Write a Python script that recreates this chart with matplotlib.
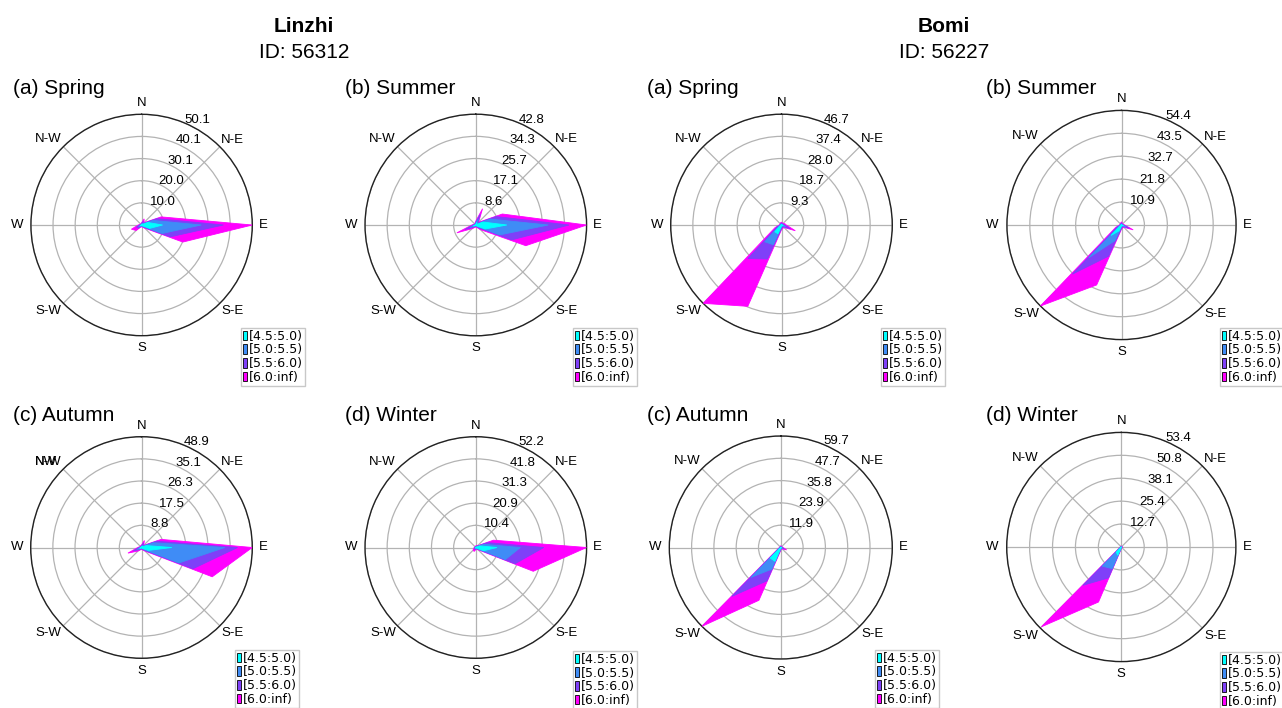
import numpy as np
import matplotlib
matplotlib.use("Agg")
import matplotlib.pyplot as plt
from matplotlib.patches import Rectangle

plt.rcParams["font.family"] = ["Liberation Sans", "DejaVu Sans"]

W, H = 1282, 708

# 16 sectors, clockwise from north
sectors = ["N", "NNE", "NE", "ENE", "E", "ESE", "SE", "SSE",
           "S", "SSW", "SW", "WSW", "W", "WNW", "NW", "NNW"]
bearings = np.arange(16) * 22.5
speed_bins = ["[4.5:5.0)", "[5.0:5.5)", "[5.5:6.0)", "[6.0:inf)"]
compass = ["N", "N-E", "E", "S-E", "S", "S-W", "W", "N-W"]

# frequency (%) per speed bin (rows) and sector (columns)
linzhi_spring = [
    [0.3, 0.5, 0.3, 3.0, 9.5, 4.0, 0.5, 0.2, 0.2, 0.2, 0.5, 0.6, 0.3, 0.2, 0.1, 0.1],
    [0.2, 0.5, 0.3, 2.5, 17.5, 6.0, 0.5, 0.2, 0.1, 0.2, 0.5, 0.9, 0.2, 0.1, 0.1, 0.1],
    [0.2, 0.8, 0.3, 2.0, 10.0, 4.0, 0.5, 0.2, 0.2, 0.2, 1.0, 1.0, 0.3, 0.2, 0.2, 0.2],
    [0.3, 1.2, 0.6, 2.1, 13.1, 6.2, 0.5, 0.4, 0.3, 0.4, 1.5, 2.5, 0.7, 0.3, 0.2, 0.3],
]
linzhi_summer = [
    [0.3, 1.0, 0.3, 3.0, 12.0, 4.0, 0.5, 0.2, 0.2, 0.2, 0.4, 1.0, 0.3, 0.2, 0.1, 0.2],
    [0.3, 1.5, 0.3, 3.0, 16.0, 6.0, 0.5, 0.2, 0.1, 0.2, 0.4, 1.5, 0.3, 0.1, 0.1, 0.1],
    [0.4, 2.0, 0.4, 2.5, 8.0, 5.0, 0.5, 0.2, 0.2, 0.2, 0.4, 2.0, 0.4, 0.2, 0.2, 0.2],
    [0.5, 2.3, 0.5, 2.6, 6.8, 5.9, 1.0, 0.4, 0.3, 0.4, 0.8, 3.4, 0.5, 0.3, 0.2, 0.3],
]
linzhi_autumn = [
    [0.2, 0.5, 0.3, 2.0, 12.0, 3.0, 0.5, 0.2, 0.2, 0.2, 0.4, 0.8, 0.3, 0.2, 0.1, 0.2],
    [0.2, 0.5, 0.2, 3.0, 21.0, 13.0, 0.5, 0.2, 0.1, 0.2, 0.4, 1.2, 0.3, 0.1, 0.1, 0.1],
    [0.2, 1.0, 0.3, 1.5, 5.0, 6.0, 0.5, 0.2, 0.2, 0.2, 0.4, 1.5, 0.4, 0.2, 0.2, 0.2],
    [0.4, 1.0, 0.4, 1.9, 5.85, 8.3, 0.5, 0.4, 0.3, 0.4, 0.8, 2.3, 0.5, 0.3, 0.2, 0.3],
]
linzhi_winter = [
    [0.2, 0.2, 0.3, 2.0, 10.0, 4.0, 0.3, 0.2, 0.2, 0.3, 0.3, 0.2, 0.2, 0.1, 0.1, 0.1],
    [0.1, 0.2, 0.2, 2.0, 11.0, 11.0, 0.3, 0.2, 0.2, 0.3, 0.3, 0.2, 0.1, 0.1, 0.1, 0.1],
    [0.2, 0.2, 0.3, 2.0, 11.0, 5.0, 0.4, 0.2, 0.2, 0.4, 0.4, 0.2, 0.2, 0.2, 0.1, 0.1],
    [0.3, 0.4, 0.4, 3.0, 20.2, 9.3, 0.5, 0.4, 0.4, 1.0, 0.8, 0.4, 0.3, 0.2, 0.2, 0.2],
]
bomi_spring = [
    [0.3, 0.2, 0.2, 0.3, 0.3, 0.8, 0.3, 0.3, 0.5, 4.0, 4.0, 0.5, 0.2, 0.2, 0.2, 0.2],
    [0.2, 0.2, 0.1, 0.3, 0.3, 1.2, 0.3, 0.3, 0.5, 5.0, 6.0, 0.5, 0.2, 0.1, 0.1, 0.2],
    [0.3, 0.2, 0.2, 0.4, 0.6, 2.0, 0.4, 0.4, 0.5, 6.5, 10.0, 1.0, 0.2, 0.2, 0.2, 0.2],
    [0.4, 0.4, 0.3, 0.5, 0.8, 2.3, 0.5, 0.5, 0.5, 21.6, 26.7, 1.0, 0.4, 0.3, 0.3, 0.4],
]
bomi_summer = [
    [0.3, 0.2, 0.2, 0.2, 0.3, 1.0, 0.3, 0.3, 0.5, 3.0, 7.0, 0.5, 0.2, 0.2, 0.2, 0.2],
    [0.3, 0.2, 0.1, 0.2, 0.3, 1.5, 0.3, 0.3, 0.5, 5.0, 15.0, 0.5, 0.2, 0.1, 0.1, 0.2],
    [0.4, 0.2, 0.2, 0.2, 0.4, 1.5, 0.4, 0.4, 0.5, 8.0, 11.0, 1.0, 0.2, 0.2, 0.2, 0.2],
    [0.5, 0.4, 0.3, 0.4, 0.5, 2.0, 0.5, 0.5, 0.5, 14.8, 21.4, 1.0, 0.4, 0.3, 0.3, 0.4],
]
bomi_autumn = [
    [0.2, 0.2, 0.2, 0.2, 0.2, 0.5, 0.2, 0.2, 0.3, 8.0, 8.0, 0.3, 0.2, 0.1, 0.1, 0.1],
    [0.2, 0.1, 0.1, 0.1, 0.2, 0.5, 0.2, 0.2, 0.3, 4.5, 14.7, 0.3, 0.1, 0.1, 0.1, 0.1],
    [0.2, 0.2, 0.2, 0.2, 0.3, 1.0, 0.2, 0.2, 0.4, 6.8, 14.3, 0.4, 0.2, 0.2, 0.2, 0.2],
    [0.4, 0.3, 0.3, 0.3, 0.5, 1.4, 0.4, 0.4, 0.5, 11.3, 22.7, 0.5, 0.3, 0.2, 0.2, 0.2],
]
bomi_winter = [
    [0.1, 0.1, 0.1, 0.1, 0.1, 0.1, 0.1, 0.1, 0.2, 5.0, 4.0, 0.2, 0.1, 0.1, 0.1, 0.1],
    [0.1, 0.1, 0.1, 0.1, 0.1, 0.1, 0.1, 0.1, 0.2, 8.0, 11.0, 0.2, 0.1, 0.1, 0.1, 0.1],
    [0.1, 0.1, 0.1, 0.1, 0.1, 0.2, 0.1, 0.1, 0.2, 5.5, 15.0, 0.2, 0.1, 0.1, 0.1, 0.1],
    [0.2, 0.2, 0.2, 0.2, 0.2, 0.4, 0.2, 0.2, 0.4, 14.5, 32.5, 0.4, 0.2, 0.2, 0.2, 0.2],
]

# radial axis limit and ring labels as printed on each panel
linzhi_rmax = [50.1, 42.8, 43.85, 52.2]
bomi_rmax = [46.7, 54.4, 59.7, 63.5]
linzhi_rlabels = [
    ["10.0", "20.0", "30.1", "40.1", "50.1"],
    ["8.6", "17.1", "25.7", "34.3", "42.8"],
    ["8.8", "17.5", "26.3", "35.1", "48.9"],
    ["10.4", "20.9", "31.3", "41.8", "52.2"],
]
bomi_rlabels = [
    ["9.3", "18.7", "28.0", "37.4", "46.7"],
    ["10.9", "21.8", "32.7", "43.5", "54.4"],
    ["11.9", "23.9", "35.8", "47.7", "59.7"],
    ["12.7", "25.4", "38.1", "50.8", "53.4"],
]
seasons = ["(a) Spring", "(b) Summer", "(c) Autumn", "(d) Winter"]

colors = ["#00ffff", "#3f8cf6", "#7f40f8", "#ff00ff"]

# where each compass label sits outside the ring: (gap as fraction of rmax, ha, va)
label_place = [
    (0.045, "center", "bottom"), (0.015, "left", "bottom"), (0.06, "left", "center"),
    (0.02, "left", "top"), (0.06, "center", "top"), (0.02, "right", "top"),
    (0.07, "right", "center"), (0.02, "right", "bottom"),
]


def px_rect(cx, cy, r):
    return [(cx - r) / W, 1 - (cy + r) / H, 2 * r / W, 2 * r / H]


def draw_rose(ax, table, rmax, rlabels):
    cum = np.cumsum(np.asarray(table), axis=0)
    theta = np.deg2rad(np.append(bearings, bearings[0] + 360))
    for i in range(len(speed_bins) - 1, -1, -1):
        r = np.append(cum[i], cum[i][0])
        ax.fill(theta, r, facecolor=colors[i], edgecolor=colors[i],
                lw=0.6, zorder=5 + len(speed_bins) - i)
    ax.set_theta_zero_location("N")
    ax.set_theta_direction(-1)
    angles = np.arange(0, 360, 45)
    ax.set_thetagrids(angles, [""] * len(angles))
    ax.set_ylim(0, rmax)
    radii = rmax * np.arange(1, 6) / 5
    ax.set_yticks(radii)
    ax.set_yticklabels([])
    ax.grid(color="#b3b3b3", lw=0.9)
    ax.spines["polar"].set_color("#222222")
    ax.spines["polar"].set_linewidth(1.0)
    for ang, lab, (g, ha, va) in zip(angles, compass, label_place):
        ax.text(np.deg2rad(ang), rmax * (1 + g), lab, ha=ha, va=va,
                fontsize=9.5, clip_on=False)
    for rr, lab in zip(radii, rlabels):
        ax.text(np.deg2rad(22.5), rr, lab, ha="left", va="baseline",
                fontsize=9.5, zorder=20, clip_on=False)


fig = plt.figure(figsize=(W / 100, H / 100), dpi=100)

panels = [
    (linzhi_spring, linzhi_rmax[0], linzhi_rlabels[0], seasons[0], 141.6, 225.0, 110.7, 13, 241, 328),
    (linzhi_summer, linzhi_rmax[1], linzhi_rlabels[1], seasons[1], 475.8, 225.0, 110.8, 345, 573, 328),
    (bomi_spring, bomi_rmax[0], bomi_rlabels[0], seasons[0], 781.5, 225.0, 110.8, 647, 881, 328),
    (bomi_summer, bomi_rmax[1], bomi_rlabels[1], seasons[1], 1121.5, 225.0, 114.6, 986, 1220, 328),
    (linzhi_autumn, linzhi_rmax[2], linzhi_rlabels[2], seasons[2], 141.5, 547.5, 110.8, 13, 235, 650),
    (linzhi_winter, linzhi_rmax[3], linzhi_rlabels[3], seasons[3], 475.8, 547.5, 110.8, 345, 573, 651),
    (bomi_autumn, bomi_rmax[2], bomi_rlabels[2], seasons[2], 780.8, 547.5, 111.5, 647, 875, 650),
    (bomi_winter, bomi_rmax[3], bomi_rlabels[3], seasons[3], 1121.3, 547.0, 114.6, 986, 1220, 652),
]

handles = [Rectangle((0, 0), 0.2, 1, facecolor=c, edgecolor="black", lw=0.6) for c in colors]

for k, (table, rmax, rlabels, title, cx, cy, rad, tx, lx, ly) in enumerate(panels):
    ax = fig.add_axes(px_rect(cx, cy, rad), projection="polar")
    draw_rose(ax, table, rmax, rlabels)
    ty = 94 if cy < 400 else 421
    fig.text(tx / W, 1 - ty / H, title, fontsize=15, ha="left", va="baseline")
    fig.legend(handles, speed_bins, loc="upper left",
               bbox_to_anchor=(lx / W, 1 - ly / H), bbox_transform=fig.transFigure,
               borderaxespad=0, prop={"family": "DejaVu Sans", "size": 9},
               handlelength=0.35, handleheight=0.8, handletextpad=0.12,
               labelspacing=0.05, borderpad=0.15, fancybox=False,
               edgecolor="#c8c8c8", framealpha=1)
    if k == 4:
        # duplicated direction label seen on this panel
        ax.annotate("NW", xy=(np.deg2rad(315), rmax * 1.02), xytext=(-3.2, 0),
                    textcoords="offset points", ha="right", va="bottom",
                    fontsize=9.5, annotation_clip=False)

fig.text(304 / W, 1 - 27 / H, "Linzhi", fontsize=15, fontweight="bold", ha="center", va="center")
fig.text(304 / W, 1 - 52 / H, "ID: 56312", fontsize=15, ha="center", va="center")
fig.text(944 / W, 1 - 27 / H, "Bomi", fontsize=15, fontweight="bold", ha="center", va="center")
fig.text(944 / W, 1 - 52 / H, "ID: 56227", fontsize=15, ha="center", va="center")

fig.savefig("out.png", dpi=100)
